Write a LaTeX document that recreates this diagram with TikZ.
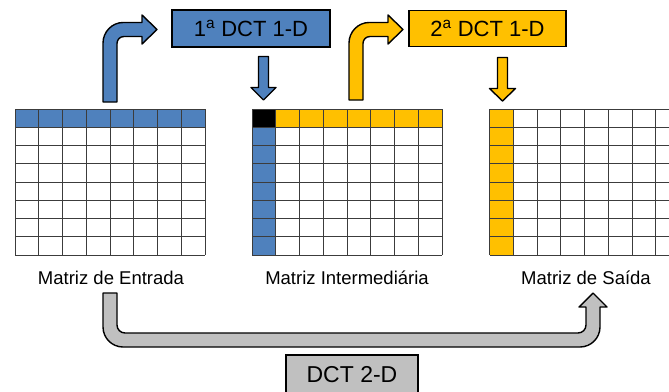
\documentclass[tikz,border=0pt]{standalone}
\usepackage{fontspec}
\setmainfont{Liberation Sans}
\definecolor{ofblue}{HTML}{4F81BD}
\definecolor{ofyellow}{HTML}{FFC000}
\definecolor{ofgray}{HTML}{C0C0C0}
\definecolor{gridc}{HTML}{3C3C3C}
\newcommand\mygrid[1]{%
  \foreach \i in {0,...,8} \draw[gridline] ({#1+\i*23.75},109) -- ({#1+\i*23.75},255);
  \foreach \j in {0,...,8} \draw[gridline] (#1,{109+\j*18.25}) -- ({#1+190},{109+\j*18.25});
}
\begin{document}
\begin{tikzpicture}[x=1pt,y=-1pt,
  gridline/.style={draw=gridc,line width=0.9pt},
  blockarrow/.style={draw=black,line width=1.4pt,line join=round},
  dctbox/.style={draw=black,line width=1.2pt,inner sep=0pt,font=\fontsize{22}{26}\selectfont},
  lab/.style={font=\fontsize{18.5}{22}\selectfont,inner sep=0pt}]
\useasboundingbox (0,0) rectangle (669,391);
\clip (0,0) rectangle (669,391);
% ---- matrices ----
\fill[ofblue] (15,109) rectangle (205,127.25);
\mygrid{15}
\fill[ofyellow] (275.75,109) rectangle (442,127.25);
\fill[black] (252,109) rectangle (275.75,127.25);
\fill[ofblue] (252,127.25) rectangle (275.75,255);
\mygrid{252}
\fill[ofyellow] (489.5,109) rectangle (513.25,255);
\mygrid{489.5}
% ---- labels ----
\node[lab] (l1) at (111,278) {Matriz de Entrada};
\node[lab] (l2) at (347,278) {Matriz Intermediária};
\node[lab] (l3) at (586,278) {Matriz de Saída};
% ---- boxes ----
\node[dctbox,fill=ofblue,minimum width=158pt,minimum height=37pt] (b1) at (251,28.5) {1\textsuperscript{a} DCT 1-D};
\node[dctbox,fill=ofyellow,minimum width=157pt,minimum height=36pt] (b2) at (487.5,28.7) {2\textsuperscript{a} DCT 1-D};
\node[dctbox,fill=ofgray,minimum width=132pt,minimum height=40pt,font=\fontsize{23}{27}\selectfont] (b3) at (352,375) {DCT 2-D};
% ---- bent arrows ----
\draw[blockarrow,fill=ofblue] (103,102) -- (103,43) .. controls (103,32) and (112,22.5) .. (123,22.5)
  -- (142,22.5) -- (142,15) -- (157,29.5) -- (142,44) -- (142,36.5) -- (124,36.5)
  .. controls (120,36.5) and (117,39.5) .. (117,43.5) -- (117,102) -- cycle;
\draw[blockarrow,fill=ofyellow,shift={(246,0)}] (103,100) -- (103,43) .. controls (103,32) and (112,22.5) .. (123,22.5)
  -- (142,22.5) -- (142,15) -- (157,29.5) -- (142,44) -- (142,36.5) -- (124,36.5)
  .. controls (120,36.5) and (117,39.5) .. (117,43.5) -- (117,100) -- cycle;
% ---- down arrows ----
\draw[blockarrow,fill=ofblue] (258.5,56.5) -- (268.5,56.5) -- (268.5,87.5) -- (276,87.5) -- (263.5,100)
  -- (251,87.5) -- (258.5,87.5) -- cycle;
\draw[blockarrow,fill=ofyellow] (497.5,57.5) -- (507.5,57.5) -- (507.5,88.5) -- (515.5,88.5) -- (502.5,101)
  -- (489.5,88.5) -- (497.5,88.5) -- cycle;
% ---- U arrow ----
\draw[blockarrow,fill=ofgray] (103,293) -- (103,327) .. controls (103,338) and (112,347) .. (123,347)
  -- (580,347) .. controls (591,347) and (600,338) .. (600,327) -- (600,307) -- (607,307) -- (593,293)
  -- (579,307) -- (586,307) -- (586,325) .. controls (586,329.4) and (582.4,333) .. (578,333)
  -- (125,333) .. controls (120.6,333) and (117,329.4) .. (117,325) -- (117,293) -- cycle;
\end{tikzpicture}
\end{document}
